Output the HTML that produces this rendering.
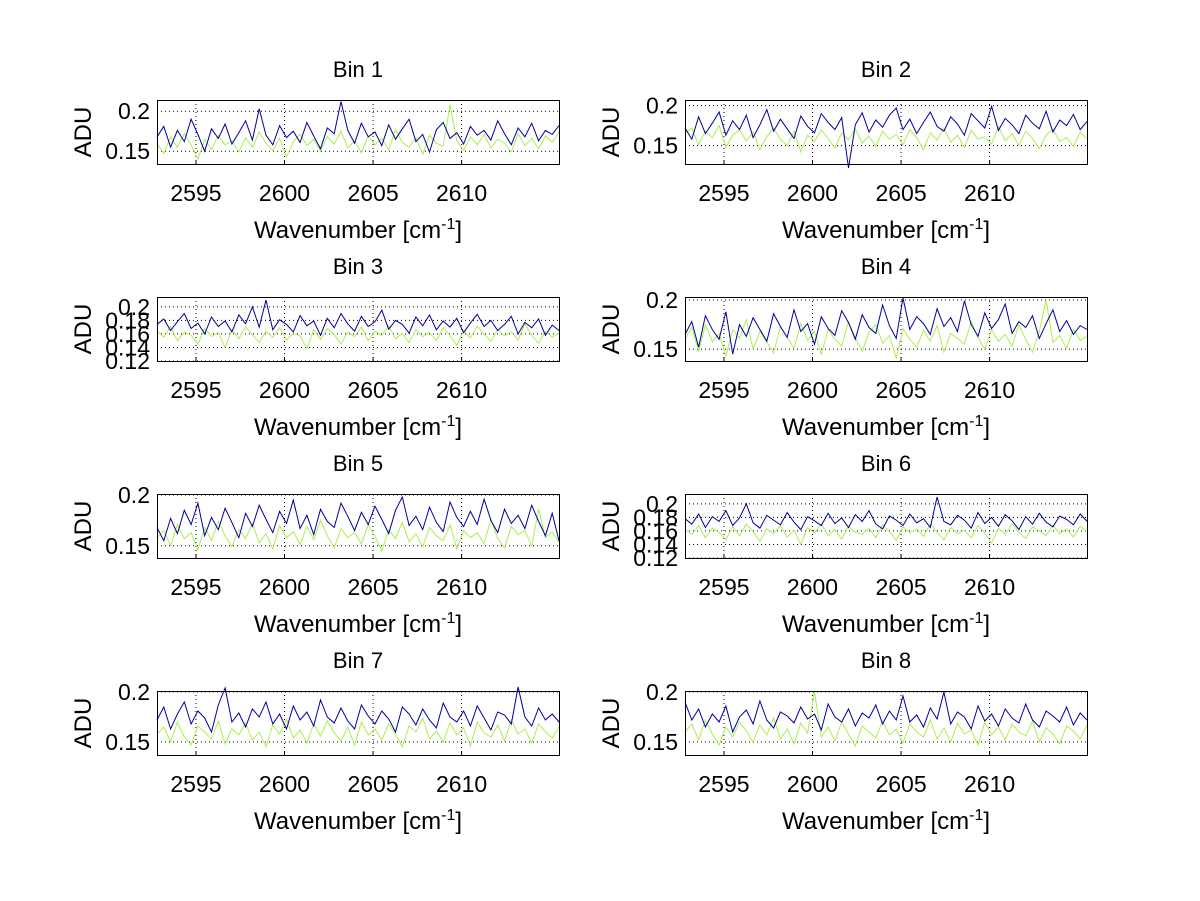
<!DOCTYPE html>
<html><head><meta charset="utf-8">
<style>
html,body{margin:0;padding:0;background:#fff;}
svg{display:block;font-family:"Liberation Sans",Arial,sans-serif;}
</style></head>
<body>
<svg id="fig" width="1200" height="901" viewBox="0 0 1200 901"></svg>
<script>
// values in milli-ADU (1e-3 ADU), sampled across 2592.8 - 2615.5 cm^-1
const xStart = 2592.8, xEnd = 2615.5;
const xTicks = [2595, 2600, 2605, 2610];
const titles = ["Bin 1","Bin 2","Bin 3","Bin 4","Bin 5","Bin 6","Bin 7","Bin 8"];
const yRanges = [[134,214],[127,207],[120,214.5],[138,203],[138,201],[120,214.5],[137,201],[137,201]];
const yTicks = [[150,200],[150,200],[120,140,160,180,200],[150,200],[150,200],[120,140,160,180,200],[150,200],[150,200]];
const yTickLabels = [["0.15","0.2"],["0.15","0.2"],["0.12","0.14","0.16","0.18","0.2"],["0.15","0.2"],["0.15","0.2"],["0.12","0.14","0.16","0.18","0.2"],["0.15","0.2"],["0.15","0.2"]];
const blue1 = [168,181,155,176,162,190,171,150,178,166,184,159,173,188,164,203,170,158,182,167,175,161,186,169,153,179,172,212,176,160,185,168,174,157,183,165,178,190,162,171,149,177,186,166,173,159,181,170,176,164,188,172,158,179,168,185,163,176,171,182];
const green1 = [160,147,168,155,172,158,140,165,152,170,158,163,149,167,155,174,160,151,166,143,162,171,157,165,150,168,159,175,154,163,148,169,158,166,152,177,161,155,167,146,170,160,156,208,163,151,168,158,171,154,165,160,149,172,157,166,153,169,161,174];
const blue2 = [172,158,186,165,178,192,163,181,170,188,160,176,195,168,183,171,159,187,174,166,190,179,170,185,122,176,191,167,182,173,188,197,170,183,165,179,192,174,168,186,177,163,190,181,172,199,169,184,176,165,188,178,171,193,167,182,175,189,170,180];
const green2 = [165,172,151,168,160,175,148,163,170,156,167,145,161,172,158,150,168,142,163,155,170,159,147,166,157,171,153,162,149,168,158,164,151,170,160,145,166,157,172,154,163,148,169,158,161,152,174,156,165,150,168,159,146,163,171,155,160,149,167,158];
const blue3 = [174,182,165,178,190,168,176,160,185,171,179,163,188,175,200,170,210,166,181,174,163,187,172,179,158,183,169,190,175,164,186,171,178,195,167,180,174,161,185,172,188,166,179,170,183,162,176,189,171,180,165,174,186,160,177,169,182,158,173,165];
const green3 = [165,155,171,150,163,158,145,168,156,162,140,166,153,170,159,147,164,155,169,151,161,157,138,166,152,168,159,145,163,156,170,150,164,158,172,153,161,147,167,156,162,150,169,158,143,165,154,171,160,149,166,157,163,151,175,158,146,164,155,161];
const blue4 = [165,178,152,184,170,160,188,145,175,163,182,170,158,186,173,162,190,168,176,155,183,171,164,189,177,160,185,172,166,195,174,161,202,170,183,176,165,191,173,182,168,199,175,163,187,171,180,196,166,178,172,184,161,176,190,168,179,165,174,170];
const green4 = [160,172,148,175,158,166,143,170,161,180,150,168,157,146,173,162,151,176,159,168,145,170,160,153,178,162,148,167,175,156,164,141,171,160,152,169,158,174,147,166,161,155,178,162,150,170,158,165,153,175,160,147,168,200,157,164,151,170,159,163];
const blue5 = [168,155,177,162,185,171,192,160,178,166,187,173,158,182,169,190,176,163,184,172,195,167,180,161,186,174,168,192,179,165,183,171,189,176,162,185,198,170,179,166,188,173,164,193,178,169,184,171,196,175,163,186,172,180,167,190,174,160,182,155];
const green5 = [158,165,150,171,157,163,146,168,155,174,160,149,166,157,172,153,162,147,170,158,164,151,169,156,175,160,148,167,158,163,152,171,159,145,166,157,173,154,162,149,168,160,155,171,147,165,158,163,152,176,157,148,169,161,165,150,186,158,164,153];
const blue6 = [178,170,185,165,181,174,190,168,179,200,172,164,183,176,169,187,173,162,181,175,168,186,171,179,165,184,174,190,170,163,182,176,168,185,172,178,165,210,174,169,183,176,164,187,171,180,167,184,175,162,181,170,186,173,166,182,177,169,185,174];
const green6 = [162,155,168,150,164,158,147,166,153,170,159,145,163,156,168,151,161,140,165,157,170,153,162,148,167,158,155,164,150,169,159,146,166,157,163,152,170,158,147,165,156,161,150,168,157,142,164,155,170,158,149,166,160,153,168,156,163,151,167,159];
const blue7 = [172,185,163,178,190,168,181,174,160,187,204,170,179,165,183,175,190,168,178,163,186,172,180,166,192,175,169,184,171,163,187,176,168,181,173,160,185,178,167,183,172,164,189,175,170,181,166,186,174,162,180,177,168,205,175,166,184,172,178,170];
const green7 = [158,165,150,170,155,147,166,160,153,171,148,163,157,169,152,160,145,167,158,173,154,162,149,168,156,171,159,151,165,147,170,157,163,152,168,158,145,166,160,174,153,161,150,169,157,164,146,170,159,155,167,151,172,158,163,149,168,160,154,165];
const blue8 = [190,172,183,165,178,170,186,160,175,182,168,191,172,164,180,176,169,185,173,178,162,188,175,170,183,166,179,174,187,168,181,172,196,170,177,165,184,173,200,168,180,175,163,186,171,178,166,183,174,169,188,172,165,181,176,170,185,167,179,172];
const green8 = [160,168,152,172,158,147,165,155,170,161,150,167,157,174,153,163,148,169,159,200,155,165,151,170,158,146,166,160,154,171,157,163,149,168,160,155,172,153,164,150,169,158,162,147,170,157,165,152,168,160,156,171,150,164,158,148,166,161,153,167];
const blueSeries = [blue1,blue2,blue3,blue4,blue5,blue6,blue7,blue8];
const greenSeries = [green1,green2,green3,green4,green5,green6,green7,green8];

const NS = "http://www.w3.org/2000/svg";
const svg = document.getElementById("fig");
const colX = [157, 685], axW = 402, rowY = [100, 297, 494, 691], axH = 64;
function mk(tag, attrs, parent) {
  const e = document.createElementNS(NS, tag);
  for (const k in attrs) e.setAttribute(k, attrs[k]);
  (parent || svg).appendChild(e);
  return e;
}
for (let i = 0; i < 8; i++) {
  const x0 = colX[i % 2], y0 = rowY[Math.floor(i / 2)];
  const [ymin, ymax] = yRanges[i];
  const sx = v => x0 + (v - xStart) / (xEnd - xStart) * axW;
  const sy = v => y0 + axH - (v - ymin) / (ymax - ymin) * axH;
  const g = mk("g", {});
  
  
  xTicks.forEach(t => {
    const l = mk("line", {x1: sx(t), x2: sx(t), y1: y0, y2: y0 + axH, stroke: "#000", "stroke-width": 1, "stroke-dasharray": "1,3"}, g);
    
    
  });
  yTicks[i].forEach(t => {
    const l = mk("line", {x1: x0, x2: x0 + axW, y1: sy(t), y2: sy(t), stroke: "#000", "stroke-width": 1, "stroke-dasharray": "1,3"}, g);
    
    
  });
  [[greenSeries[i], "#a8f050"], [blueSeries[i], "#00009c"]].forEach(([arr, col], si) => {
    const n = arr.length;
    const pts = arr.map((v, k) => sx(xStart + k / (n - 1) * (xEnd - xStart)).toFixed(1) + "," + sy(v).toFixed(1)).join(" ");
    const p = mk("polyline", {points: pts, fill: "none", stroke: col, "stroke-width": 1}, g);
    
    
  });
  const r = mk("rect", {x: x0 + 0.5, y: y0 + 0.5, width: axW, height: axH, fill: "none", stroke: "#000", "stroke-width": 1}, g);
  
  
  xTicks.forEach(t => {
    mk("line", {x1: sx(t), x2: sx(t), y1: y0 + axH, y2: y0 + axH - 4, stroke: "#000"}, g);
    const tx = mk("text", {x: sx(t), y: y0 + axH + 37, "text-anchor": "middle", "font-size": 23}, g);
    tx.textContent = t;
    
    
  });
  yTicks[i].forEach((t, k) => {
    const ty = mk("text", {x: x0 - 7, y: sy(t) + 8, "text-anchor": "end", "font-size": 23}, g);
    ty.textContent = yTickLabels[i][k];
    
    
  });
  const tt = mk("text", {x: x0 + axW / 2, y: y0 - 23, "text-anchor": "middle", "font-size": 22}, g);
  tt.textContent = titles[i];
  
  
  const xl = mk("text", {x: x0 + axW / 2, y: y0 + axH + 74, "text-anchor": "middle", "font-size": 24}, g);
  xl.innerHTML = 'Wavenumber [cm<tspan dy="-9" font-size="16">-1</tspan><tspan dy="9">]</tspan>';
  
  
  const yl = mk("text", {x: 0, y: 0, "text-anchor": "middle", "font-size": 24, transform: "translate(" + (x0 - 66) + "," + (y0 + axH / 2) + ") rotate(-90)"}, g);
  yl.textContent = "ADU";
  
  
}
</script>
</body></html>
